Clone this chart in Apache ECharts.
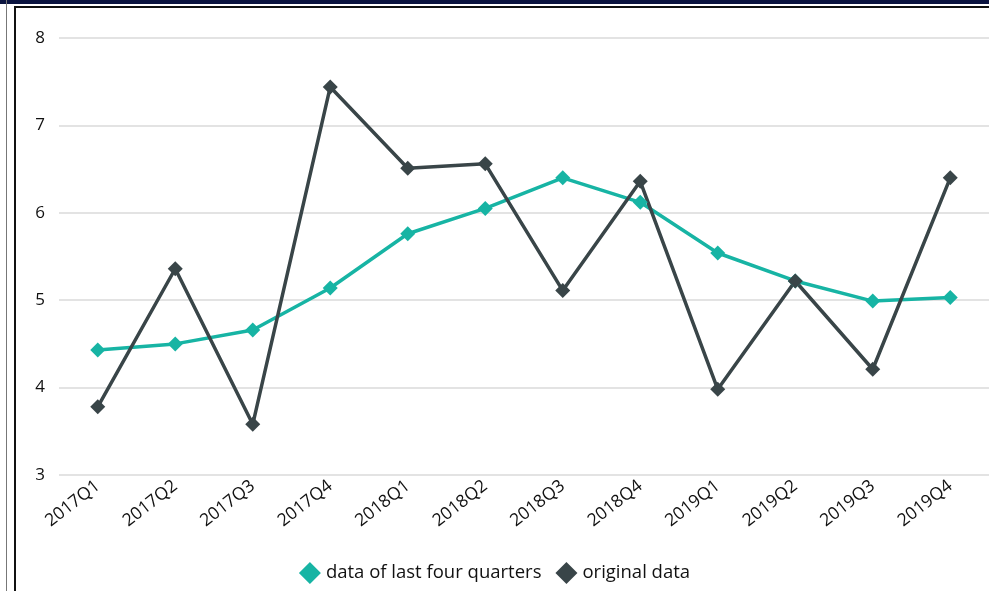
<!DOCTYPE html>
<html>
<head>
<meta charset="utf-8">
<script src="https://cdn.jsdelivr.net/npm/echarts@6/dist/echarts.min.js"></script>
<style>
    html, body { margin: 0; padding: 0; background: #fff; }
    #wrap { position: relative; width: 989px; height: 591px; overflow: hidden; }
    #chart { position: absolute; left: 0; top: 0; width: 989px; height: 591px; }
    .bd { position: absolute; }
</style>
</head>
<body>
<div id="wrap">
    <div id="chart"></div>
    <div class="bd" style="left:0;top:0;width:989px;height:4px;background:#0b1440;"></div>
    <div class="bd" style="left:14px;top:6px;width:975px;height:2px;background:#111;"></div>
    <div class="bd" style="left:6px;top:0;width:1px;height:591px;background:#777;"></div>
    <div class="bd" style="left:14px;top:6px;width:2px;height:585px;background:#111;"></div>
</div>
<script>
    var quarters = ['2017Q1', '2017Q2', '2017Q3', '2017Q4', '2018Q1', '2018Q2', '2018Q3', '2018Q4', '2019Q1', '2019Q2', '2019Q3', '2019Q4']
    var lastFour = [4.43, 4.50, 4.66, 5.14, 5.76, 6.05, 6.40, 6.12, 5.54, 5.22, 4.99, 5.03]
    var original = [3.78, 5.36, 3.58, 7.44, 6.51, 6.56, 5.11, 6.36, 3.98, 5.22, 4.21, 6.40]

    var font = '"Open Sans", Lato, sans-serif'
    var chart = echarts.init(document.getElementById('chart'))
    var option = {
        animation: false,
        textStyle: { fontFamily: font },
        grid: { left: 59, top: 38, width: 935, height: 437 },
        legend: {
            bottom: 2,
            left: 'center',
            icon: 'diamond',
            itemWidth: 22,
            itemHeight: 22,
            itemGap: 14,
            textStyle: { fontSize: 18.5, color: '#111', fontFamily: font },
            data: ['data of last four quarters', 'original data']
        },
        xAxis: {
            type: 'category',
            data: quarters,
            boundaryGap: true,
            axisLine: { show: false },
            axisTick: { show: false },
            axisLabel: { rotate: 38, fontSize: 17.5, color: '#111', margin: 9 }
        },
        yAxis: {
            type: 'value',
            min: 3,
            max: 8,
            interval: 1,
            axisLine: { show: false },
            axisTick: { show: false },
            axisLabel: { fontSize: 17, color: '#111', margin: 14 },
            splitLine: { lineStyle: { color: '#e3e3e3', width: 2 } }
        },
        series: [
            {
                name: 'data of last four quarters',
                type: 'line',
                data: lastFour,
                symbol: 'diamond',
                symbolSize: 15,
                color: '#17b4a4',
                lineStyle: { width: 3.5, color: '#17b4a4' }
            },
            {
                name: 'original data',
                type: 'line',
                data: original,
                symbol: 'diamond',
                symbolSize: 15,
                color: '#394548',
                lineStyle: { width: 3.5, color: '#394548' }
            }
        ]
    }
    chart.setOption(option)
</script>
</body>
</html>
